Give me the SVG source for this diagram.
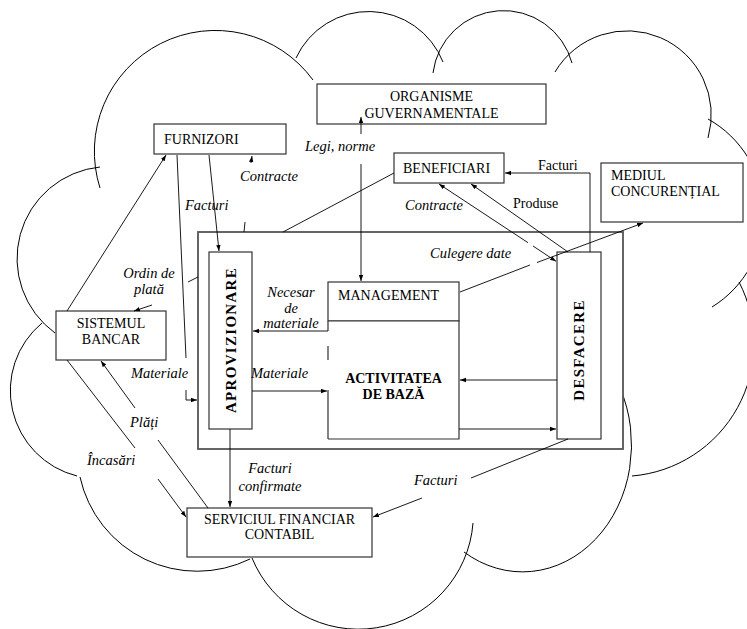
<svg xmlns="http://www.w3.org/2000/svg" width="747" height="629" viewBox="0 0 747 629">
<defs>
<marker id="ah" markerWidth="6" markerHeight="6" refX="6" refY="3" orient="auto" markerUnits="userSpaceOnUse"><path d="M0,0.8 L6,3 L0,5.2 z" fill="#000"/></marker>
<style>
.cloud{fill:none;stroke:#000;stroke-width:1}
.box{fill:#fff;stroke:#333;stroke-width:1.2}
.frame{fill:#fff;stroke:#555;stroke-width:1.8}
.ln{fill:none;stroke:#000;stroke-width:0.9}
.ar{fill:none;stroke:#000;stroke-width:0.9;marker-end:url(#ah)}
text{font-family:"Liberation Serif","Times New Roman",serif;font-size:14px;fill:#000}
.it{font-style:italic;font-size:14.5px}
.b{font-weight:bold}
.mid{text-anchor:middle}
.vert{font-weight:bold;font-size:15px;text-anchor:middle}
</style>
</defs>
<rect width="747" height="629" fill="#fff"/>
<g id="cloud" class="cloud">
<path d="M100,188 A121,121 0 0 1 313,80"/>
<path d="M296,58 A80,80 0 0 1 443,62"/>
<path d="M433,73 A71,71 0 0 1 572,63"/>
<path d="M555,72 A84,84 0 0 1 708,138"/>
<path d="M708,119 A109,109 0 0 1 712,307"/>
<path d="M739,282 A133,133 0 0 1 632,476"/>
<path d="M464,552 A109,127 0 0 0 620,388"/>
<path d="M252,558 A115,115 0 0 0 473,523"/>
<path d="M80,477 A120,120 0 0 0 250,559"/>
<path d="M42,323 A88,88 0 0 0 77,476"/>
<path d="M100,167 A92,92 0 0 0 55,333"/>
</g>
<g id="firma">
<rect class="frame" x="198" y="232" width="425" height="217"/>
</g>
<g id="aprovizionare">
<rect class="box" x="209" y="252" width="43" height="177"/>
<text class="vert" transform="translate(235.5,340) rotate(-90)" letter-spacing="1.3">APROVIZIONARE</text>
</g>
<g id="management">
<rect class="box" x="328" y="282" width="131" height="39"/>
<text x="338" y="300">MANAGEMENT</text>
</g>
<g id="activitatea">
<path d="M328,321 H459 V439 H328" fill="#fff" stroke="#333" stroke-width="1.2"/>
<path d="M328,321 V331 M328,346 V360 M328,390 V439" fill="none" stroke="#333" stroke-width="1.2"/>
<text class="b mid" x="393.5" y="383">ACTIVITATEA</text>
<text class="b mid" x="393.5" y="399">DE BAZĂ</text>
</g>
<g id="desfacere">
<rect class="box" x="557" y="252" width="44" height="187"/>
<text class="vert" transform="translate(584,350) rotate(-90)" letter-spacing="1.3">DESFACERE</text>
</g>
<g id="furnizori">
<rect class="box" x="154" y="124" width="132" height="30"/>
<text x="164" y="144">FURNIZORI</text>
</g>
<g id="organisme">
<rect class="box" x="317" y="84" width="229" height="40"/>
<text class="mid" x="431.5" y="101">ORGANISME</text>
<text class="mid" x="431.5" y="118">GUVERNAMENTALE</text>
</g>
<g id="beneficiari">
<rect class="box" x="394" y="153" width="110" height="30"/>
<text x="403" y="173">BENEFICIARI</text>
</g>
<g id="mediul">
<rect class="box" x="601" y="163" width="142" height="59"/>
<text x="611" y="180">MEDIUL</text>
<text x="611" y="196">CONCURENȚIAL</text>
</g>
<g id="sistemul">
<rect class="box" x="56" y="311" width="110" height="49"/>
<text class="mid" x="111" y="328">SISTEMUL</text>
<text class="mid" x="111" y="344">BANCAR</text>
</g>
<g id="serviciul">
<rect class="box" x="187" y="508" width="185" height="49"/>
<text class="mid" x="279.5" y="524">SERVICIUL FINANCIAR</text>
<text class="mid" x="279.5" y="539">CONTABIL</text>
</g>
<g id="connectors">
<path class="ar" d="M67,311 L166,155"/>
<path class="ln" d="M177,155 L186,358"/>
<path class="ar" d="M186,390 L186,400 L197,400"/>
<path class="ar" d="M209,155 L219,251"/>
<path class="ln" d="M244,232 L245,222"/>
<path class="ar" d="M251,163 L252,156"/>
<path class="ln" d="M394,173 L283,232"/>
<path class="ar" d="M361,134 L361,117"/>
<path class="ar" d="M361,164 L361,281"/>
<path class="ar" d="M590,252 L590,173 L505,173"/>
<path class="ar" d="M568,252 L471,184"/>
<path class="ar" d="M528,242.7 L439,184"/>
<path class="ar" d="M533,246 L556,261.3"/>
<path class="ln" d="M460,292 L530,265"/>
<path class="ar" d="M537,262.5 L643,223"/>
<path class="ar" d="M328,331 L253,331"/>
<path class="ar" d="M252,391 L327,391"/>
<path class="ar" d="M557,380 L460,380"/>
<path class="ar" d="M459,429 L556,429"/>
<path class="ar" d="M230,429 L230,507"/>
<path class="ln" d="M568,439 L471,478"/>
<path class="ar" d="M422,498 L373,517"/>
<path class="ln" d="M67,360 L135,448"/>
<path class="ar" d="M158,479 L186,517"/>
<path class="ln" d="M208,508 L158,440"/>
<path class="ar" d="M135,408 L101,361"/>
<path class="ln" d="M198,277 L188,282"/>
<path class="ar" d="M152,305 L134,311"/>
</g>
<g id="labels">
<text class="it" x="185" y="210">Facturi</text>
<text class="it" x="240" y="181">Contracte</text>
<text class="it" x="305" y="151">Legi, norme</text>
<text x="538" y="170">Facturi</text>
<text x="513" y="208">Produse</text>
<text class="it" x="405" y="210">Contracte</text>
<text class="it" x="430" y="258">Culegere date</text>
<text class="it mid" x="149" y="278">Ordin de</text>
<text class="it mid" x="149" y="294">plată</text>
<text class="it mid" x="291" y="297">Necesar</text>
<text class="it mid" x="291" y="313">de</text>
<text class="it mid" x="291" y="328">materiale</text>
<text class="it" x="131" y="378">Materiale</text>
<text class="it" x="251" y="378">Materiale</text>
<text class="it" x="130" y="427">Plăți</text>
<text class="it" x="87" y="465">Încasări</text>
<text class="it mid" x="270" y="473">Facturi</text>
<text class="it mid" x="270" y="491">confirmate</text>
<text class="it" x="414" y="485">Facturi</text>
</g>
</svg>
